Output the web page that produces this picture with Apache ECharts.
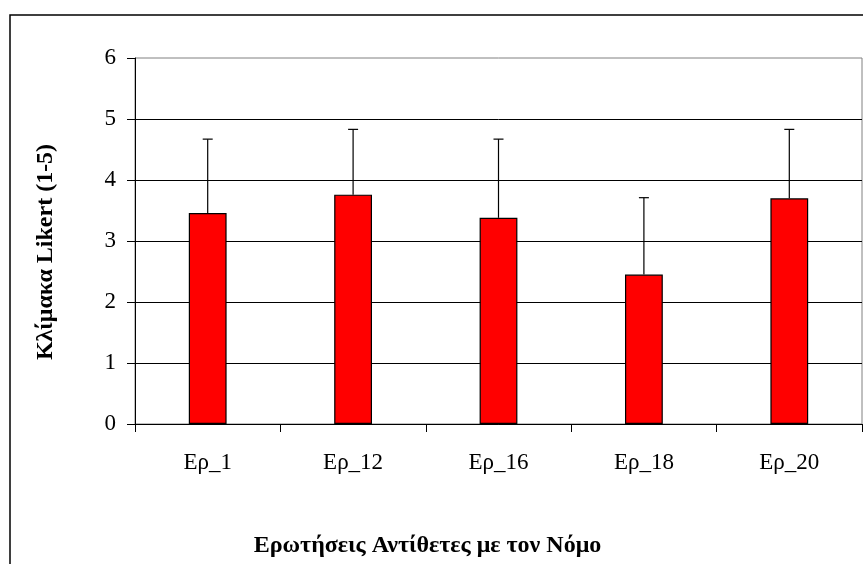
<!DOCTYPE html>
<html>
<head>
<meta charset="utf-8">
<script src="https://cdn.jsdelivr.net/npm/echarts@6/dist/echarts.min.js"></script>
<style>
  html, body { margin: 0; padding: 0; background: #fff; }
  #chart { width: 863px; height: 564px; }
</style>
</head>
<body>
<div id="chart"></div>
<script>
// δεδομένα
const categories = ['Ερ_1', 'Ερ_12', 'Ερ_16', 'Ερ_18', 'Ερ_20']
const means = [3.46, 3.76, 3.38, 2.45, 3.70]
const stdDevs = [1.21, 1.07, 1.29, 1.26, 1.13]
const yTicks = [0, 1, 2, 3, 4, 5, 6]

const fontFamily = '"Liberation Serif", "Times New Roman", serif'

const chart = echarts.init(document.getElementById('chart'))

const option = {
  animation: false,
  backgroundColor: '#fff',
  grid: {
    left: 135,
    right: 1,
    top: 58,
    bottom: 140,
    show: true,
    borderColor: '#808080',
    borderWidth: 1
  },
  // εξωτερικό πλαίσιο
  graphic: [
    {
      type: 'rect',
      shape: { x: 10, y: 15, width: 900, height: 600 },
      style: { fill: 'none', stroke: '#000', lineWidth: 1.5 },
      silent: true
    }
  ],
  xAxis: {
    type: 'category',
    data: categories,
    name: 'Ερωτήσεις Αντίθετες με τον Νόμο',
    nameLocation: 'middle',
    nameGap: 110,
    nameTextStyle: {
      fontFamily: fontFamily,
      fontWeight: 'bold',
      fontSize: 24,
      color: '#000',
      padding: [0, 142, 0, 0]
    },
    axisLine: { lineStyle: { color: '#000', width: 1 } },
    axisTick: { show: true, length: 8, lineStyle: { color: '#000' } },
    axisLabel: {
      margin: 27,
      fontFamily: fontFamily,
      fontSize: 23,
      color: '#000'
    }
  },
  yAxis: {
    type: 'value',
    min: yTicks[0],
    max: yTicks[yTicks.length - 1],
    interval: 1,
    name: 'Κλίμακα Likert (1-5)',
    nameLocation: 'middle',
    nameRotate: 90,
    nameGap: 77,
    nameTextStyle: {
      fontFamily: fontFamily,
      fontWeight: 'bold',
      fontSize: 24,
      color: '#000',
      padding: [0, 22, 0, 0]
    },
    axisLine: { show: true, lineStyle: { color: '#000', width: 1 } },
    axisTick: { show: true, length: 8, lineStyle: { color: '#000' } },
    axisLabel: {
      margin: 19,
      fontFamily: fontFamily,
      fontSize: 23,
      color: '#000'
    },
    splitLine: { show: true, showMaxLine: false, lineStyle: { color: '#000', width: 1 } }
  },
  series: [
    {
      type: 'bar',
      data: means,
      barWidth: '26%',
      itemStyle: { color: '#ff0000', borderColor: '#000', borderWidth: 1.2 },
      z: 2
    },
    {
      // ράβδοι σφάλματος (μόνο προς τα πάνω)
      type: 'custom',
      data: means.map((m, i) => [i, m, m + stdDevs[i]]),
      renderItem: function (params, api) {
        const base = api.coord([api.value(0), api.value(1)])
        const top = api.coord([api.value(0), api.value(2)])
        const half = 5
        return {
          type: 'group',
          children: [
            {
              type: 'line',
              shape: { x1: base[0], y1: base[1], x2: top[0], y2: top[1] },
              style: { stroke: '#000', lineWidth: 1.2 }
            },
            {
              type: 'line',
              shape: { x1: top[0] - half, y1: top[1], x2: top[0] + half, y2: top[1] },
              style: { stroke: '#000', lineWidth: 1.2 }
            }
          ]
        }
      },
      z: 3
    }
  ]
}

chart.setOption(option)
</script>
</body>
</html>
